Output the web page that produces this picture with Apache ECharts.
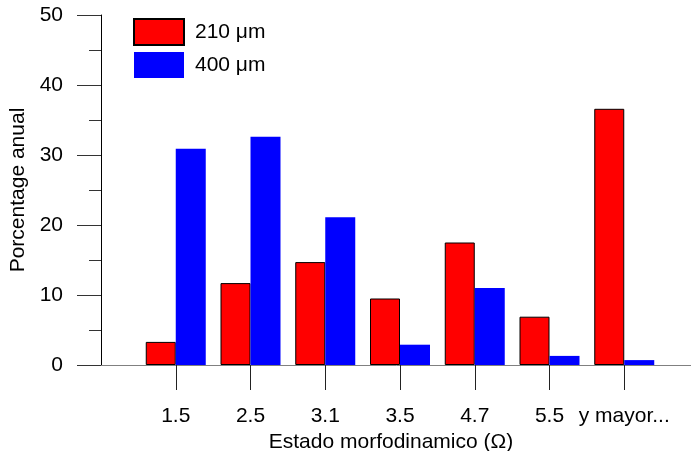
<!DOCTYPE html>
<html>
<head>
<meta charset="utf-8">
<script src="https://cdn.jsdelivr.net/npm/echarts@6/dist/echarts.min.js"></script>
<style>
html,body{margin:0;padding:0;background:#fff;}
#chart{width:691px;height:451px;}
</style>
</head>
<body>
<div id="chart"></div>
<script>
var categories = ["1.5", "2.5", "3.1", "3.5", "4.7", "5.5", "y mayor..."];
var values210 = [3.3, 11.7, 14.7, 9.5, 17.5, 6.9, 36.6];
var values400 = [30.9, 32.6, 21.1, 2.9, 11.0, 1.3, 0.7];
var seriesNames = ["210 \u03bcm", "400 \u03bcm"];
var yTicks = [0, 10, 20, 30, 40, 50];

// pad one empty slot on each side so that groups sit on the tick marks
var cats = [""].concat(categories, [""]);
var d210 = [null].concat(values210, [null]);
var d400 = [null].concat(values400, [null]);

var FONT = "'Liberation Sans', Arial, sans-serif";
var chart = echarts.init(document.getElementById('chart'), null, {renderer: 'canvas'});
chart.setOption({
  animation: false,
  backgroundColor: '#ffffff',
  textStyle: {fontFamily: FONT},
  grid: {left: 101, top: 15, width: 598, height: 350, containLabel: false, outerBoundsMode: 'none'},
  legend: {
    left: 133, top: 18, orient: 'vertical', padding: 0,
    icon: 'rect',
    itemWidth: 50, itemHeight: 26, itemGap: 6,
    data: seriesNames,
    textStyle: {fontFamily: FONT, fontSize: 21, color: '#000', padding: [2, 0, 0, 6]}
  },
  xAxis: {
    type: 'category',
    data: cats,
    boundaryGap: false,
    name: 'Estado morfodinamico (\u03a9)',
    nameLocation: 'middle',
    nameGap: 66,
    nameTextStyle: {fontFamily: FONT, fontSize: 21, color: '#000', padding: [0, 18, 0, 0]},
    axisLine: {show: true, lineStyle: {color: '#808080', width: 1}},
    axisTick: {
      show: true, length: 25,
      interval: function (i) { return i > 0 && i < cats.length - 1; },
      lineStyle: {color: '#222', width: 1}
    },
    axisLabel: {
      fontFamily: FONT, fontSize: 21, color: '#000', margin: 41,
      interval: function (i) { return i > 0 && i < cats.length - 1; }
    },
    splitLine: {show: false}
  },
  yAxis: {
    type: 'value',
    min: yTicks[0], max: yTicks[yTicks.length - 1], interval: 10,
    name: 'Porcentage anual',
    nameLocation: 'middle',
    nameGap: 67,
    nameTextStyle: {fontFamily: FONT, fontSize: 21, color: '#000'},
    axisLine: {show: true, lineStyle: {color: '#000', width: 1}},
    axisTick: {show: true, length: 24, lineStyle: {color: '#333', width: 1}},
    minorTick: {show: true, splitNumber: 2, length: 12, lineStyle: {color: '#333', width: 1}},
    axisLabel: {fontFamily: FONT, fontSize: 21, color: '#000', margin: 38},
    splitLine: {show: false}
  },
  series: [
    {
      name: seriesNames[0], type: 'bar', data: d210,
      barWidth: 30, barGap: '0%',
      itemStyle: {color: '#ff0000', borderColor: '#000000', borderWidth: 1}
    },
    {
      name: seriesNames[1], type: 'bar', data: d400,
      barWidth: 30, barGap: '0%',
      itemStyle: {color: '#0000ff', borderWidth: 0}
    }
  ]
});
</script>
</body>
</html>
